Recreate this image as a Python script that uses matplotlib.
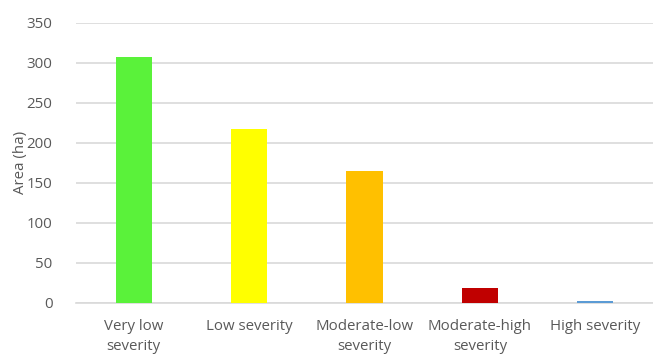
import matplotlib.pyplot as plt

# Datos del gráfico
categorias = ['Very low\nseverity', 'Low severity', 'Moderate-low\nseverity',
              'Moderate-high\nseverity', 'High severity']
area_ha = [307, 217, 165, 18, 2]
colores = ['#5AF23A', '#FFFF00', '#FFC000', '#C00000', '#5B9BD5']

plt.rcParams['font.family'] = ['Open Sans', 'DejaVu Sans']

fig = plt.figure(figsize=(6.53, 3.54), dpi=100)
ax = fig.add_axes([0.1164, 0.145, 0.8836, 0.791])

x = range(len(categorias))
ax.bar(x, area_ha, width=0.315, color=colores, zorder=3)

ax.set_xlim(-0.5, len(categorias) - 0.5)
ax.set_ylim(0, 350)
ax.set_yticks(range(0, 351, 50))
ax.set_xticks(list(x))
ax.set_xticklabels(categorias, linespacing=1.45)

gris = '#595959'
ax.tick_params(axis='both', length=0, colors=gris, labelsize=10.8)
ax.tick_params(axis='y', pad=17)
ax.tick_params(axis='x', pad=12)
ax.grid(axis='y', color='#D9D9D9', linewidth=1.2, zorder=0)
for lado in ['top', 'right', 'left']:
    ax.spines[lado].set_visible(False)
ax.spines['bottom'].set_color('#D9D9D9')
ax.spines['bottom'].set_linewidth(1.2)

ax.set_ylabel('Area (ha)', color=gris, fontsize=10.8)
ax.yaxis.set_label_coords(-0.084, 0.5)

fig.savefig('out.png', dpi=100)
